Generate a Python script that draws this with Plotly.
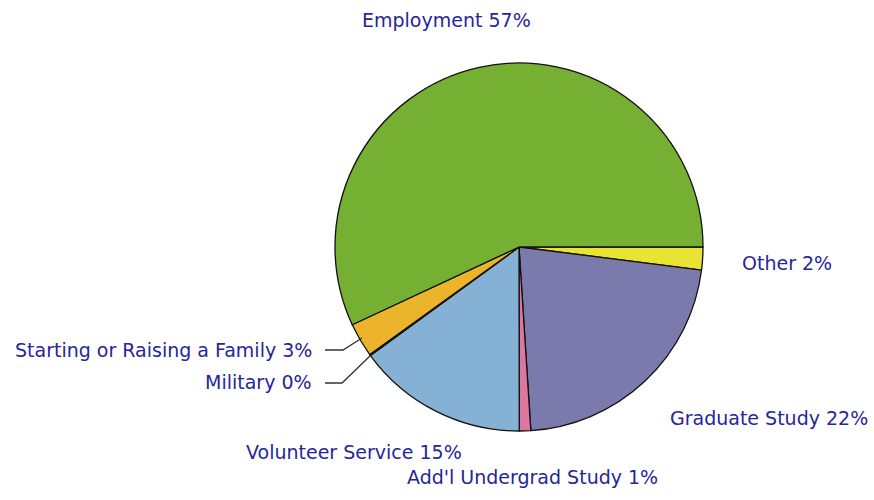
import plotly.graph_objects as go

labels = ["Other", "Graduate Study", "Add'l Undergrad Study", "Volunteer Service",
          "Military", "Starting or Raising a Family", "Employment"]
values = [2, 22, 1, 15, 0.1, 3, 57]
pct_text = ["2%", "22%", "1%", "15%", "0%", "3%", "57%"]
colors = ["#E9E434", "#7A7AAC", "#DD77A0", "#85B1D5", "#85B1D5", "#EBB42A", "#76B032"]

# label placement (paper px from top-left): x, y, anchor
label_pos = {
    "Employment": (446, 20, "center"),
    "Other": (740, 263, "left"),
    "Graduate Study": (668, 418, "left"),
    "Volunteer Service": (244, 452, "left"),
    "Add'l Undergrad Study": (405, 477, "left"),
    "Starting or Raising a Family": (314, 350, "right"),
    "Military": (314, 382, "right"),
}

W, H = 874, 500
cx, cy, r = 519, 247, 184

fig = go.Figure(go.Pie(
    labels=labels, values=values, sort=False, direction="clockwise", rotation=90,
    marker=dict(colors=colors, line=dict(color="#111111", width=1.3)),
    textinfo="none", hoverinfo="label+percent", showlegend=False,
    domain=dict(x=[(cx - r) / W, (cx + r) / W], y=[1 - (cy + r) / H, 1 - (cy - r) / H]),
))

annotations = []
for lab, pct in zip(labels, pct_text):
    x, y, anc = label_pos[lab]
    annotations.append(dict(
        x=x / W, y=1 - y / H, xref="paper", yref="paper", text=f"{lab} {pct}",
        showarrow=False, xanchor=anc, yanchor="middle",
        font=dict(family="DejaVu Sans", size=19, color="#26269A"),
    ))

# leader lines for the small left-side slices
leaders = [
    [(325, 350), (343, 350), (362, 338)],
    [(325, 383), (342, 383), (370, 356)],
]
shapes = []
for pts in leaders:
    path = "M " + " L ".join(f"{px / W},{1 - py / H}" for px, py in pts)
    shapes.append(dict(type="path", path=path, xref="paper", yref="paper",
                       line=dict(color="#333333", width=1.3)))

fig.update_layout(
    width=W, height=H, margin=dict(l=0, r=0, t=0, b=0),
    paper_bgcolor="white", plot_bgcolor="white",
    annotations=annotations, shapes=shapes,
)

fig.write_html("out.html")
